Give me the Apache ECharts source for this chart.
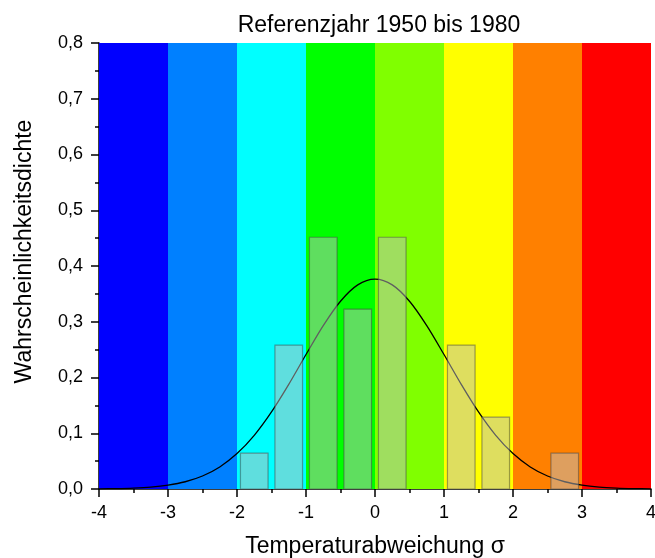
<!DOCTYPE html>
<html>
<head>
<meta charset="utf-8">
<script src="https://cdn.jsdelivr.net/npm/echarts@6/dist/echarts.min.js"></script>
<style>html,body{margin:0;padding:0;background:#fff}#c{width:655px;height:558px}</style>
</head>
<body>
<div id="c"></div>
<script>
// Background colour bands (σ ranges)
var bandStarts = [-4, -3, -2, -1, 0, 1, 2, 3];
var bandEnds   = [-3, -2, -1, 0, 1, 2, 3, 4];
var bandColors = ['#0000ff', '#0080ff', '#00ffff', '#00ff00', '#80ff00', '#ffff00', '#ff8000', '#ff0000'];

// Histogram (bin centres and densities)
var binCenters = [-1.75, -1.25, -0.75, -0.25, 0.25, 1.25, 1.75, 2.75];
var binDensity = [0.0645, 0.258, 0.4516, 0.3226, 0.4516, 0.258, 0.129, 0.0645];

// Fitted curve
var curveX = [-4, -3.75, -3.5, -3.25, -3, -2.75, -2.5, -2.25, -2, -1.75, -1.5, -1.25, -1, -0.75, -0.5, -0.25, 0,
              0.25, 0.5, 0.75, 1, 1.25, 1.5, 1.75, 2, 2.25, 2.5, 2.75, 3, 3.25, 3.5, 3.75, 4];
var curveY = [0.0003, 0.0007, 0.0016, 0.0034, 0.0069, 0.013, 0.0233, 0.0396, 0.0635, 0.0963, 0.1383, 0.1878, 0.2412, 0.2931, 0.3368, 0.3661, 0.3764,
              0.3661, 0.3368, 0.2931, 0.2412, 0.1878, 0.1383, 0.0963, 0.0635, 0.0396, 0.0233, 0.013, 0.0069, 0.0034, 0.0016, 0.0007, 0.0003];

var xTicks = [-4, -3, -2, -1, 0, 1, 2, 3, 4];
var yTickLabels = ['0,0', '0,1', '0,2', '0,3', '0,4', '0,5', '0,6', '0,7', '0,8'];

var BIN_WIDTH = 0.4;
var FONT = '"Liberation Sans", Arial, sans-serif';

var chart = echarts.init(document.getElementById('c'), null, {renderer: 'canvas'});

var bandData = bandStarts.map(function (s, i) {
  return [{xAxis: s, itemStyle: {color: bandColors[i], opacity: 1}}, {xAxis: bandEnds[i]}];
});

var option = {
  animation: false,
  textStyle: {fontFamily: FONT},
  title: {
    text: 'Referenzjahr 1950 bis 1980',
    left: 374, top: 9, textAlign: 'center',
    textStyle: {fontFamily: FONT, fontSize: 23, fontWeight: 'normal', color: '#000'}
  },
  grid: {left: 99, right: 4, top: 43, bottom: 69, containLabel: false, outerBoundsMode: 'none'},
  xAxis: {
    type: 'value', min: -4, max: 4, interval: 1,
    name: 'Temperaturabweichung σ', nameLocation: 'middle', nameGap: 46,
    nameTextStyle: {fontFamily: FONT, fontSize: 23, color: '#000'},
    axisLine: {show: true, onZero: false, lineStyle: {color: '#000', width: 1.5}},
    axisTick: {show: true, inside: false, length: 8, lineStyle: {color: '#000', width: 1.5}},
    minorTick: {show: true, splitNumber: 2, length: 4, lineStyle: {color: '#000', width: 1.5}},
    splitLine: {show: false},
    axisLabel: {margin: 15, fontSize: 18, color: '#000', fontFamily: FONT,
      formatter: function (v) { return xTicks.indexOf(v) >= 0 ? String(v) : ''; }}
  },
  yAxis: {
    type: 'value', min: 0, max: 0.8, interval: 0.1,
    name: '',
    axisLine: {show: true, onZero: false, lineStyle: {color: '#000', width: 1.5}},
    axisTick: {show: true, inside: false, length: 8, lineStyle: {color: '#000', width: 1.5}},
    minorTick: {show: true, splitNumber: 2, length: 4, lineStyle: {color: '#000', width: 1.5}},
    splitLine: {show: false},
    axisLabel: {margin: 16, fontSize: 18, color: '#000', fontFamily: FONT,
      formatter: function (v) { return yTickLabels[Math.round(v * 10)]; }}
  },
  series: [
    {
      type: 'line', data: [], silent: true, z: 1, symbol: 'none',
      markArea: {silent: true, label: {show: false}, data: bandData}
    },
    {
      type: 'line', z: 3, smooth: 0.3, symbol: 'none',
      data: curveX.map(function (x, i) { return [x, curveY[i]]; }),
      lineStyle: {color: '#000', width: 1.3}
    },
    {
      type: 'custom', z: 4,
      data: binCenters.map(function (c, i) { return [c, binDensity[i]]; }),
      renderItem: function (params, api) {
        var c = api.value(0), v = api.value(1);
        var p0 = api.coord([c - BIN_WIDTH / 2, v]);
        var p1 = api.coord([c + BIN_WIDTH / 2, 0]);
        return {
          type: 'rect',
          shape: {x: p0[0], y: p0[1], width: p1[0] - p0[0], height: p1[1] - p0[1]},
          style: {fill: 'rgba(190,190,190,0.5)', stroke: 'rgba(70,70,70,0.5)', lineWidth: 1.2}
        };
      }
    }
  ],
  graphic: [{
    type: 'text', x: 25, y: 251.5, rotation: Math.PI / 2, silent: true,
    style: {text: 'Wahrscheinlichkeitsdichte', font: '23px ' + FONT, fill: '#000',
            textAlign: 'center', textVerticalAlign: 'middle'}
  }]
};
chart.setOption(option);
</script>
</body>
</html>
